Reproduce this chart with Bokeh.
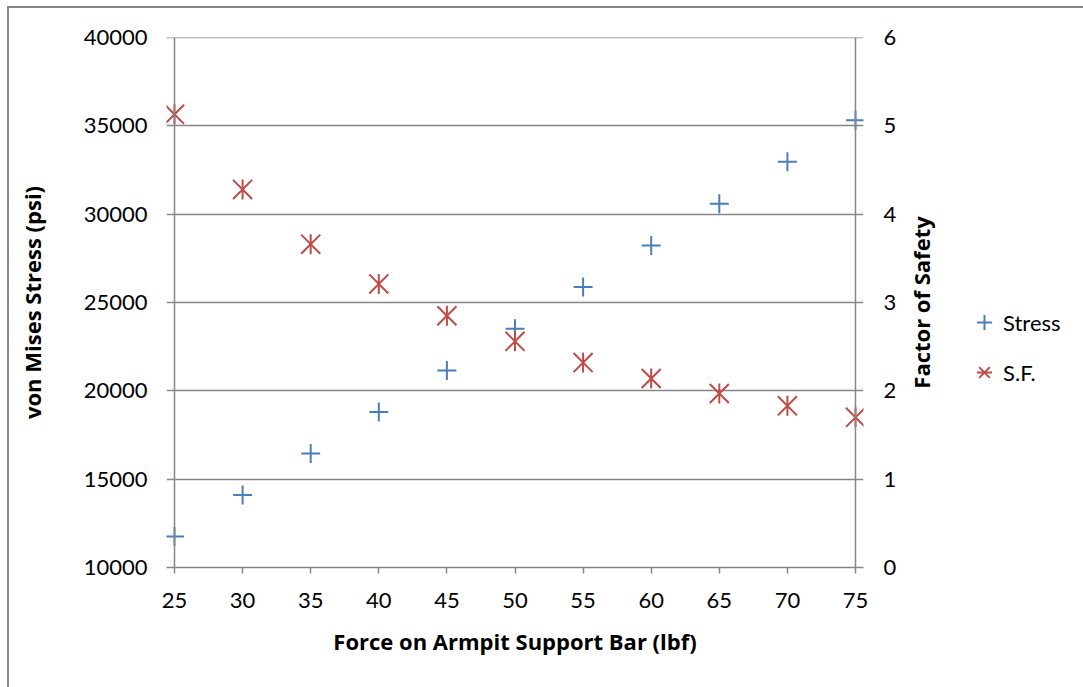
import math
from bokeh.plotting import figure
from bokeh.layouts import row
from bokeh.models import Range1d, LinearAxis, SingleIntervalTicker, Span, Legend, LegendItem, Label
from bokeh.embed import file_html
from bokeh.resources import INLINE

# ---- data ----
force = [25, 30, 35, 40, 45, 50, 55, 60, 65, 70, 75]
stress = [11750, 14100, 16450, 18800, 21150, 23520, 25880, 28230, 30590, 32960, 35320]
safety = [5.13, 4.28, 3.66, 3.21, 2.85, 2.56, 2.32, 2.14, 1.97, 1.83, 1.70]
series_names = ["Stress", "S.F."]
x_title = "Force on Armpit Support Bar (lbf)"
y_title = "von Mises Stress (psi)"
y2_title = "Factor of Safety"
y_lo, y_hi = 10000, 40000
y2_lo, y2_hi = 0, 6

# ---- styling ----
BLUE = "#4A7EBB"
RED = "#BE4B48"
GRAY = "#868686"
FONT = "Lato"
TFONT = "Open Sans"
FRAME_W = 697           # frame width in px (axis-to-axis 681 px + 8 px on each side)
PAD = 8 * (force[-1] - force[0]) / (FRAME_W - 16)

p = figure(width=894, height=679,
           x_range=Range1d(force[0] - PAD, force[-1] + PAD),
           y_range=Range1d(y_lo, y_hi),
           output_backend="svg", toolbar_location=None,
           min_border_left=157, min_border_right=40,
           min_border_top=29, min_border_bottom=120)
p.outline_line_color = None
p.background_fill_color = "white"
p.border_fill_color = "white"

# x axis
xa = p.xaxis[0]
xa.ticker = SingleIntervalTicker(interval=5)
xa.axis_line_color = GRAY
xa.axis_line_width = 1.5
xa.major_tick_line_color = GRAY
xa.major_tick_line_width = 1.5
xa.major_tick_out = 6
xa.major_tick_in = 0
xa.minor_tick_line_color = None
xa.major_label_text_font = FONT
xa.major_label_text_font_size = "22px"
xa.major_label_text_color = "black"
xa.major_label_standoff = 19
xa.axis_label = x_title
xa.axis_label_text_font = TFONT
xa.axis_label_text_font_style = "bold"
xa.axis_label_text_font_size = "22px"
xa.axis_label_text_color = "black"
xa.axis_label_standoff = 15

# left y axis
ya = p.yaxis[0]
ya.ticker = SingleIntervalTicker(interval=5000)
ya.axis_line_color = None
ya.major_tick_line_color = None
ya.major_tick_out = 0
ya.major_tick_in = 0
ya.minor_tick_line_color = None
ya.major_label_text_font = FONT
ya.major_label_text_font_size = "22px"
ya.major_label_text_color = "black"
ya.major_label_standoff = 15
ya.axis_label = y_title
ya.axis_label_text_font = TFONT
ya.axis_label_text_font_style = "bold"
ya.axis_label_text_font_size = "22px"
ya.axis_label_text_color = "black"
ya.axis_label_standoff = 34

# right y axis (title is drawn in the side canvas)
p.extra_y_ranges = {"sf": Range1d(y2_lo, y2_hi)}
ra = LinearAxis(y_range_name="sf", ticker=SingleIntervalTicker(interval=1))
ra.axis_line_color = None
ra.major_tick_line_color = None
ra.major_tick_out = 0
ra.major_tick_in = 0
ra.minor_tick_line_color = None
ra.major_label_text_font = FONT
ra.major_label_text_font_size = "22px"
ra.major_label_text_color = "black"
ra.major_label_standoff = 16
p.add_layout(ra, "right")

# grid
p.xgrid.visible = False
p.ygrid.ticker = SingleIntervalTicker(interval=5000)
p.ygrid.grid_line_color = GRAY
p.ygrid.grid_line_width = 1.5
p.add_layout(Span(location=y_hi, dimension="width", line_color=GRAY, line_width=1.5))

# vertical axis lines at the ends of the force range
for loc in (force[0], force[-1]):
    p.add_layout(Span(location=loc, dimension="height", line_color=GRAY, line_width=1.5))

# series
p.scatter(force, stress, marker="cross", size=19, line_color=BLUE, line_width=2)
p.scatter(force, safety, marker="x", size=27, line_color=RED, line_width=2, y_range_name="sf")
p.scatter(force, safety, marker="dash", angle=math.pi / 2, size=20, line_color=RED,
          line_width=2, y_range_name="sf")

# side canvas: right axis title + legend (so neither is clipped)
q = figure(width=180, height=679, x_range=Range1d(0, 1), y_range=Range1d(0, 1),
           output_backend="svg", toolbar_location=None,
           min_border_left=0, min_border_right=0, min_border_top=0, min_border_bottom=0)
q.axis.visible = False
q.grid.visible = False
q.outline_line_color = None
q.background_fill_color = "white"
q.border_fill_color = "white"
# same series drawn here only to provide legend glyphs (they fall outside this canvas' ranges)
l1 = q.scatter(force, stress, marker="cross", line_color=BLUE, line_width=2)
l2 = q.scatter(force, safety, marker="x", line_color=RED, line_width=2)
l3 = q.scatter(force, safety, marker="dash", angle=math.pi / 2, line_color=RED, line_width=2)
legend = Legend(items=[LegendItem(label=series_names[0], renderers=[l1]),
                       LegendItem(label=series_names[1], renderers=[l2, l3])],
                location=(62, 176), orientation="vertical",
                padding=0, margin=0, spacing=12, label_standoff=0,
                glyph_width=38, glyph_height=38, label_height=38,
                label_text_font=FONT, label_text_font_size="22px", label_text_color="black",
                border_line_color=None, background_fill_alpha=0)
q.add_layout(legend)
q.add_layout(Label(x=17, y=0.5, x_units="screen", y_units="data", text=y2_title,
                   angle=math.pi / 2, text_align="center", text_baseline="middle",
                   text_font=TFONT, text_font_style="bold", text_font_size="22px",
                   text_color="black"))

layout = row(p, q, spacing=0,
             styles={"margin-left": "7px", "margin-top": "6px",
                     "border-left": "2px solid " + GRAY, "border-top": "2px solid " + GRAY})

open("out.html", "w").write(file_html(layout, INLINE))
